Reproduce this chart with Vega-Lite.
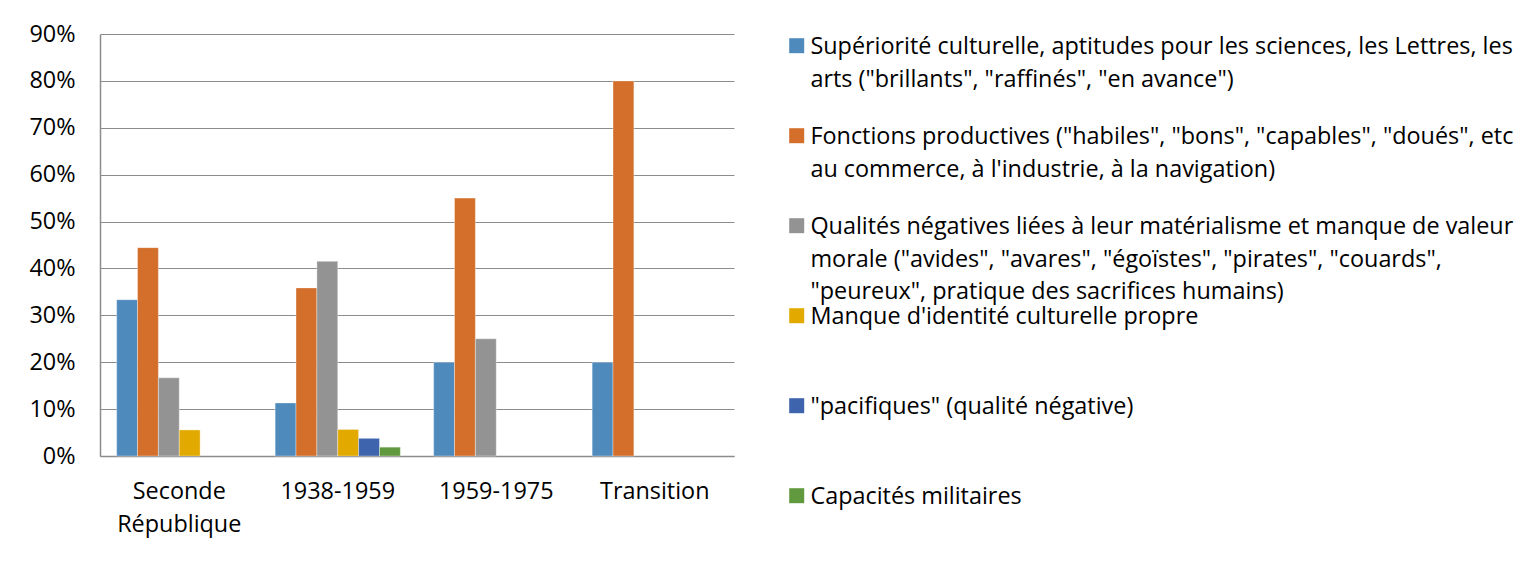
{
  "$schema": "https://vega.github.io/schema/vega-lite/v6.json",
  "width": 634,
  "height": 422,
  "padding": {"left": 28, "top": 22, "right": 5, "bottom": 5},
  "background": "#ffffff",
  "data": {
    "values": [
      {"period": "Seconde République", "series": "Supériorité culturelle, aptitudes pour les sciences, les Lettres, les|arts (\"brillants\", \"raffinés\", \"en avance\")", "value": 0.3333},
      {"period": "Seconde République", "series": "Fonctions productives (\"habiles\", \"bons\", \"capables\", \"doués\", etc|au commerce, à l'industrie, à la navigation)", "value": 0.4444},
      {"period": "Seconde République", "series": "Qualités négatives liées à leur matérialisme et manque de valeur|morale (\"avides\", \"avares\", \"égoïstes\", \"pirates\", \"couards\",|\"peureux\", pratique des sacrifices humains)", "value": 0.1667},
      {"period": "Seconde République", "series": "Manque d'identité culturelle propre", "value": 0.0556},
      {"period": "1938-1959", "series": "Supériorité culturelle, aptitudes pour les sciences, les Lettres, les|arts (\"brillants\", \"raffinés\", \"en avance\")", "value": 0.1132},
      {"period": "1938-1959", "series": "Fonctions productives (\"habiles\", \"bons\", \"capables\", \"doués\", etc|au commerce, à l'industrie, à la navigation)", "value": 0.3585},
      {"period": "1938-1959", "series": "Qualités négatives liées à leur matérialisme et manque de valeur|morale (\"avides\", \"avares\", \"égoïstes\", \"pirates\", \"couards\",|\"peureux\", pratique des sacrifices humains)", "value": 0.4151},
      {"period": "1938-1959", "series": "Manque d'identité culturelle propre", "value": 0.0566},
      {"period": "1938-1959", "series": "\"pacifiques\" (qualité négative)", "value": 0.0377},
      {"period": "1938-1959", "series": "Capacités militaires", "value": 0.0189},
      {"period": "1959-1975", "series": "Supériorité culturelle, aptitudes pour les sciences, les Lettres, les|arts (\"brillants\", \"raffinés\", \"en avance\")", "value": 0.20},
      {"period": "1959-1975", "series": "Fonctions productives (\"habiles\", \"bons\", \"capables\", \"doués\", etc|au commerce, à l'industrie, à la navigation)", "value": 0.55},
      {"period": "1959-1975", "series": "Qualités négatives liées à leur matérialisme et manque de valeur|morale (\"avides\", \"avares\", \"égoïstes\", \"pirates\", \"couards\",|\"peureux\", pratique des sacrifices humains)", "value": 0.25},
      {"period": "Transition", "series": "Supériorité culturelle, aptitudes pour les sciences, les Lettres, les|arts (\"brillants\", \"raffinés\", \"en avance\")", "value": 0.20},
      {"period": "Transition", "series": "Fonctions productives (\"habiles\", \"bons\", \"capables\", \"doués\", etc|au commerce, à l'industrie, à la navigation)", "value": 0.80}
    ]
  },
  "mark": {"type": "bar", "stroke": "#ffffff", "strokeWidth": 0.6, "strokeOpacity": 0.6},
  "encoding": {
    "x": {
      "field": "period",
      "type": "nominal",
      "sort": ["Seconde République", "1938-1959", "1959-1975", "Transition"],
      "scale": {"paddingInner": 0.21, "paddingOuter": 0.105},
      "axis": {
        "title": null,
        "labelAngle": 0,
        "labelExpr": "datum.label == 'Seconde République' ? ['Seconde', 'République'] : datum.label",
        "labelFont": "Open Sans",
        "labelFontSize": 23.4,
        "labelColor": "#000000",
        "labelPadding": 24,
        "labelBaseline": "top",
        "labelLineHeight": 33,
        "ticks": false,
        "domainColor": "#8c8c8c",
        "domainWidth": 1.5,
        "grid": false
      }
    },
    "xOffset": {
      "field": "series",
      "type": "nominal",
      "scale": {
        "domain": [
          "Supériorité culturelle, aptitudes pour les sciences, les Lettres, les|arts (\"brillants\", \"raffinés\", \"en avance\")",
          "Fonctions productives (\"habiles\", \"bons\", \"capables\", \"doués\", etc|au commerce, à l'industrie, à la navigation)",
          "Qualités négatives liées à leur matérialisme et manque de valeur|morale (\"avides\", \"avares\", \"égoïstes\", \"pirates\", \"couards\",|\"peureux\", pratique des sacrifices humains)",
          "Manque d'identité culturelle propre",
          "\"pacifiques\" (qualité négative)",
          "Capacités militaires"
        ],
        "paddingInner": 0,
        "paddingOuter": 0
      }
    },
    "y": {
      "field": "value",
      "type": "quantitative",
      "scale": {"domain": [0, 0.9], "nice": false},
      "axis": {
        "title": null,
        "format": ".0%",
        "values": [0, 0.1, 0.2, 0.3, 0.4, 0.5, 0.6, 0.7, 0.8, 0.9],
        "labelFont": "Open Sans",
        "labelFontSize": 23.4,
        "labelColor": "#000000",
        "labelPadding": 25,
        "ticks": false,
        "domainColor": "#8c8c8c",
        "domainWidth": 1.5,
        "gridColor": "#8c8c8c",
        "gridWidth": 1.2
      }
    },
    "color": {
      "field": "series",
      "type": "nominal",
      "scale": {
        "domain": [
          "Supériorité culturelle, aptitudes pour les sciences, les Lettres, les|arts (\"brillants\", \"raffinés\", \"en avance\")",
          "Fonctions productives (\"habiles\", \"bons\", \"capables\", \"doués\", etc|au commerce, à l'industrie, à la navigation)",
          "Qualités négatives liées à leur matérialisme et manque de valeur|morale (\"avides\", \"avares\", \"égoïstes\", \"pirates\", \"couards\",|\"peureux\", pratique des sacrifices humains)",
          "Manque d'identité culturelle propre",
          "\"pacifiques\" (qualité négative)",
          "Capacités militaires"
        ],
        "range": ["#4f8abd", "#d36e2b", "#939393", "#e2aa00", "#3d64ad", "#619a3e"]
      },
      "legend": {
        "title": null,
        "orient": "none",
        "legendX": 685,
        "legendY": 8.4,
        "symbolType": "M-1,-2.12L1,-2.12L1,-0.12L-1,-0.12Z",
        "symbolSize": 225,
        "symbolStrokeWidth": 0,
        "symbolOpacity": 1,
        "labelFont": "Open Sans",
        "labelFontSize": 23.4,
        "labelColor": "#000000",
        "labelLimit": 900,
        "labelOffset": 2,
        "labelBaseline": "alphabetic",
        "labelExpr": "split(datum.label, '|')",
        "gridAlign": "all",
        "rowPadding": 0
      }
    }
  },
  "config": {
    "view": {"stroke": null},
    "style": {"guide-label": {"lineHeight": 32.7}}
  }
}
